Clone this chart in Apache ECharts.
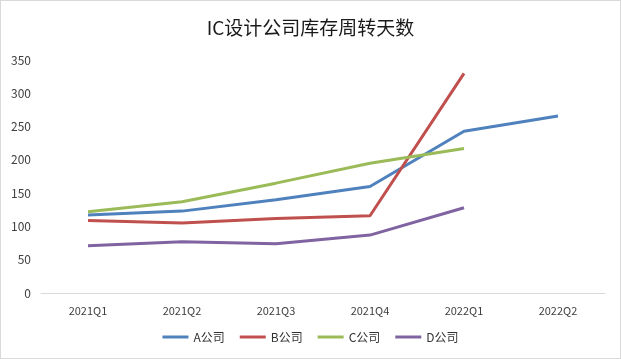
<!DOCTYPE html>
<html><head><meta charset="utf-8">
<script src="https://cdn.jsdelivr.net/npm/echarts@6/dist/echarts.min.js"></script>
<style>html,body{margin:0;padding:0;background:#fff}#c{width:621px;height:359px;box-sizing:border-box;border:1px solid #d9d9d9}</style>
</head><body><div id="c"></div>
<script>
const categories = ['2021Q1','2021Q2','2021Q3','2021Q4','2022Q1','2022Q2'];
const seriesA = [117, 123, 140, 160, 243, 266];
const seriesB = [109, 105, 112, 116, 330, null];
const seriesC = [122, 137, 165, 195, 217, null];
const seriesD = [71, 77, 74, 87, 128, null];
const names = ['A公司','B公司','C公司','D公司'];
const colors = ['#4F81BD','#C0504D','#9BBB59','#8064A2'];
const data = [seriesA, seriesB, seriesC, seriesD];
const font = '"Noto Sans CJK SC", "Microsoft YaHei", sans-serif';
const chart = echarts.init(document.getElementById('c'));
chart.setOption({
  animation: false,
  textStyle: {fontFamily: font},
  title: {text: 'IC设计公司库存周转天数', left: 'center', top: 12,
    textStyle: {fontSize: 19, fontWeight: 'normal', color: '#1a1a1a', fontFamily: font}},
  legend: {bottom: 10, itemWidth: 26, itemHeight: 3, itemGap: 15, icon: 'rect',
    textStyle: {fontSize: 12, color: '#333', fontFamily: font}, data: names},
  grid: {left: 40, right: 15, top: 59, bottom: 65},
  xAxis: {type: 'category', data: categories, boundaryGap: true,
    axisLine: {lineStyle: {color: '#d9d9d9'}}, axisTick: {show: false},
    axisLabel: {color: '#404040', fontSize: 11, margin: 12}},
  yAxis: {type: 'value', min: 0, max: 350, interval: 50,
    splitLine: {show: false}, axisLine: {show: false}, axisTick: {show: false},
    axisLabel: {color: '#404040', fontSize: 12, margin: 10}},
  series: data.map((d, i) => ({
    name: names[i], type: 'line', data: d, symbol: 'none',
    lineStyle: {width: 3, color: colors[i]}, itemStyle: {color: colors[i]}
  }))
});
</script></body></html>
